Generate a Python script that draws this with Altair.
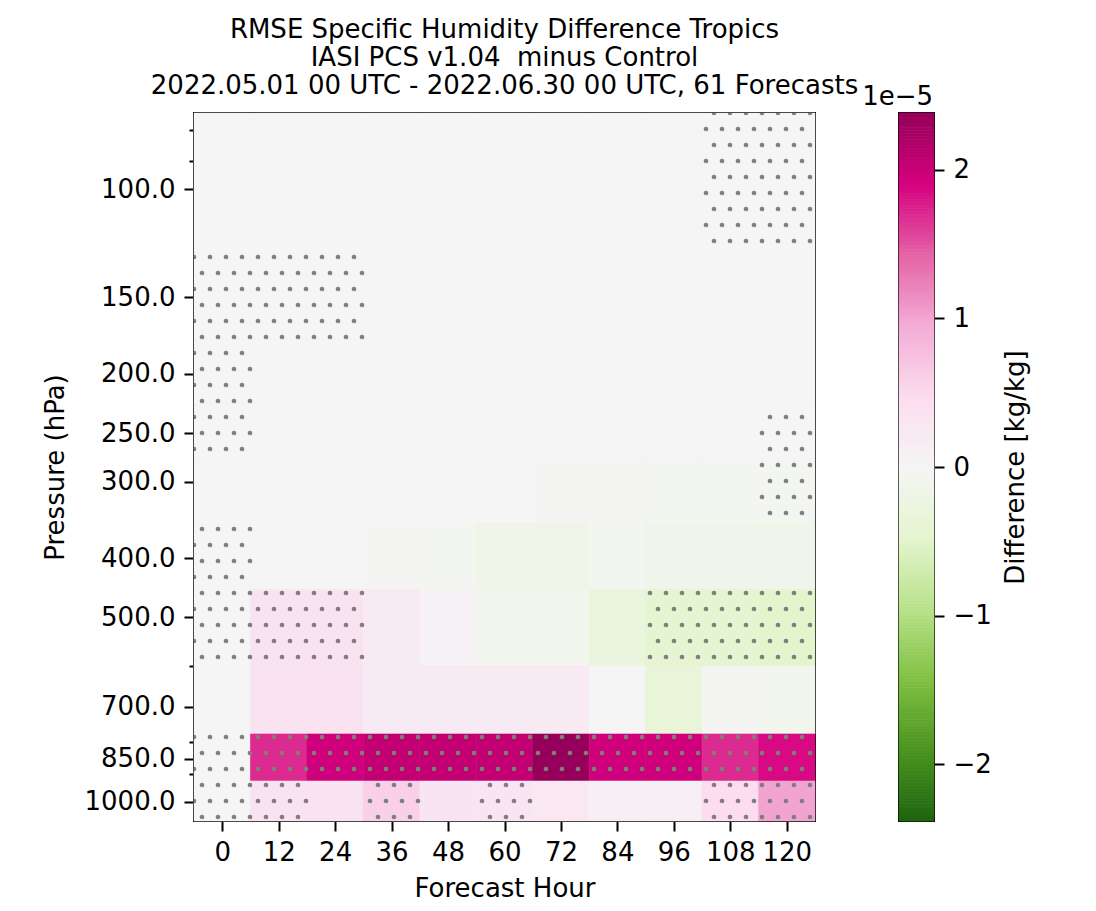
import numpy as np
import pandas as pd
import altair as alt

# ---------------- data ----------------
hours = [0, 12, 24, 36, 48, 60, 72, 84, 96, 108, 120]
levels = [100, 150, 200, 250, 300, 400, 500, 700, 850, 1000]

# RMSE difference (IASI PCS v1.04 minus Control), units of 1e-5 kg/kg
diff_100 = [0.0, 0.0, 0.0, 0.0, 0.0, 0.0, 0.0, 0.0, 0.0, 0.0, 0.0]
diff_150 = [0.0, 0.0, 0.0, 0.0, 0.0, 0.0, 0.0, 0.0, 0.0, 0.0, 0.0]
diff_200 = [0.0, 0.0, 0.0, 0.0, 0.0, 0.0, 0.0, 0.0, 0.0, 0.0, 0.0]
diff_250 = [0.0, 0.0, 0.0, 0.0, 0.0, 0.0, 0.0, 0.0, 0.0, 0.0, 0.0]
diff_300 = [0.0, 0.0, 0.0, 0.0, 0.0, 0.0, -0.03, -0.03, -0.05, -0.05, -0.05]
diff_400 = [0.0, 0.0, 0.0, -0.02, -0.05, -0.15, -0.15, -0.05, -0.13, -0.13, -0.13]
diff_500 = [0.0, 0.35, 0.35, 0.2, 0.08, -0.1, -0.12, -0.3, -0.45, -0.45, -0.48]
diff_700 = [0.0, 0.35, 0.35, 0.2, 0.2, 0.2, 0.2, 0.0, -0.35, -0.04, -0.1]
diff_850 = [0.0, 1.7, 1.95, 2.05, 2.05, 2.05, 2.38, 1.95, 1.95, 1.7, 1.85]
diff_1000 = [0.0, 0.35, 0.35, 0.6, 0.3, 0.3, 0.25, 0.1, 0.1, 0.45, 1.0]
diffs = [diff_100, diff_150, diff_200, diff_250, diff_300,
         diff_400, diff_500, diff_700, diff_850, diff_1000]

# significance (stippled cells)
sig_100 = [0, 0, 0, 0, 0, 0, 0, 0, 0, 1, 1]
sig_150 = [1, 1, 1, 0, 0, 0, 0, 0, 0, 0, 0]
sig_200 = [1, 0, 0, 0, 0, 0, 0, 0, 0, 0, 0]
sig_250 = [1, 0, 0, 0, 0, 0, 0, 0, 0, 0, 1]
sig_300 = [0, 0, 0, 0, 0, 0, 0, 0, 0, 0, 1]
sig_400 = [1, 0, 0, 0, 0, 0, 0, 0, 0, 0, 0]
sig_500 = [1, 1, 1, 0, 0, 0, 0, 0, 1, 1, 1]
sig_700 = [0, 0, 0, 0, 0, 0, 0, 0, 0, 0, 0]
sig_850 = [1, 1, 1, 1, 1, 1, 1, 1, 1, 1, 1]
sig_1000 = [1, 1, 0, 1, 0, 1, 0, 0, 0, 1, 1]
sigs = [sig_100, sig_150, sig_200, sig_250, sig_300,
        sig_400, sig_500, sig_700, sig_850, sig_1000]

y_ticks_major = [100, 150, 200, 250, 300, 400, 500, 700, 850, 1000]
y_ticks_minor = [80, 90, 600, 800, 900]
cbar_ticks = [-2, -1, 0, 1, 2]
vmax = 2.38

title_lines = ["RMSE Specific Humidity Difference Tropics",
               "IASI PCS v1.04 \u00a0minus Control",
               "2022.05.01 00 UTC - 2022.06.30 00 UTC, 61 Forecasts"]

# ---------------- geometry of cells ----------------
W, H = 621, 708
FONT = "DejaVu Sans"
FS = 26

x_edges = [hours[0] - 6] + [h + 6 for h in hours]
mids = [(levels[i] + levels[i + 1]) / 2 for i in range(len(levels) - 1)]
y_edges = [levels[0] - (levels[1] - levels[0]) / 2] + mids + \
          [levels[-1] + (levels[-1] - levels[-2]) / 2]

rows = []
for r, lev in enumerate(levels):
    for c, h in enumerate(hours):
        rows.append(dict(hour=h, level=lev, x0=x_edges[c], x1=x_edges[c + 1],
                         y0=y_edges[r], y1=y_edges[r + 1], diff=diffs[r][c]))
cells = pd.DataFrame(rows)

# stipple texture: fixed pixel lattice, kept only inside significant cells
lo, hi = np.log(y_edges[0]), np.log(y_edges[-1])
xl, xh = x_edges[0], x_edges[-1]
dots = []
for k in range(0, H // 16 + 1):
    py = 16 * k
    yd = float(np.exp(lo + py / H * (hi - lo)))
    r = int(np.searchsorted(y_edges, yd, side="right") - 1)
    r = min(max(r, 0), len(levels) - 1)
    off = 8 if k % 2 == 0 else 0
    for px in range(off, W + 1, 16):
        xd = xl + px / W * (xh - xl)
        c = int((xd - xl) // 12)
        c = min(max(c, 0), len(hours) - 1)
        if sigs[r][c]:
            dots.append(dict(dx=xd, dy=yd))
dots_df = pd.DataFrame(dots)

# ---------------- scales ----------------
cdom = [-2.38, -1.90, -1.43, -0.95, -0.476, 0.0, 0.476, 0.95, 1.43, 1.90, 2.38]
crange = ["#1e6410", "#4b9420", "#80c043", "#b9e28a", "#e4f5cf", "#f5f5f5",
          "#fcdcee", "#f4acd6", "#e462a5", "#d6007f", "#96005a"]
color_scale = alt.Scale(domain=cdom, range=crange, interpolate="rgb", clamp=True)

x_scale = alt.Scale(domain=[xl, xh], nice=False, zero=False)
y_scale = alt.Scale(type="log", domain=[y_edges[0], y_edges[-1]], reverse=True, nice=False)

x_axis = alt.Axis(values=hours, title="Forecast Hour", format="d", labelFlush=False,
                  tickSize=10, labelPadding=8, titlePadding=10, labelOverlap=False)
major_js = "[" + ",".join(str(v) for v in y_ticks_major) + "]"
minor_js = "[" + ",".join(str(v) for v in y_ticks_minor) + "]"
y_axis = alt.Axis(values=sorted(y_ticks_major + y_ticks_minor), title="Pressure (hPa)",
                  labelExpr=f"indexof({major_js}, datum.value) >= 0 ? format(datum.value, '.1f') : ''",
                  tickSize={"condition": {"test": f"indexof({minor_js}, datum.value) >= 0", "value": 5},
                            "value": 10},
                  labelPadding=9, titlePadding=16, labelOverlap=False, labelFlush=False)

rects = alt.Chart(cells).mark_rect(strokeWidth=0.6).encode(
    x=alt.X("x0:Q", scale=x_scale, axis=x_axis),
    x2="x1:Q",
    y=alt.Y("y0:Q", scale=y_scale, axis=y_axis),
    y2="y1:Q",
    color=alt.Color("diff:Q", scale=color_scale, legend=None),
    stroke=alt.Stroke("diff:Q", scale=color_scale, legend=None),
)

stipple = alt.Chart(dots_df).mark_circle(size=22, color="#7f7f7f", opacity=1, clip=True).encode(
    x=alt.X("dx:Q", scale=x_scale, axis=x_axis),
    y=alt.Y("dy:Q", scale=y_scale, axis=y_axis),
)

main = alt.layer(rects, stipple).properties(
    width=W, height=H,
    title=alt.TitleParams(text=title_lines, font=FONT, fontSize=FS, fontWeight="normal",
                          color="black", anchor="middle", frame="group",
                          lineHeight=28, offset=14),
)

# ---------------- colorbar ----------------
edges = np.linspace(-vmax, vmax, 239)
cb_df = pd.DataFrame({"v0": edges[:-1], "v1": edges[1:],
                      "vm": (edges[:-1] + edges[1:]) / 2})
cb_axis = alt.Axis(orient="right", values=cbar_ticks,
                   labelExpr="replace(format(datum.value, 'd'), '-', '\u2212')",
                   title="Difference [kg/kg]", titleAngle=270, titleBaseline="top",
                   tickSize=10, labelPadding=9, titlePadding=11, labelFlush=False)
cbar = alt.Chart(cb_df).mark_rect(strokeWidth=0.8).encode(
    y=alt.Y("v0:Q", scale=alt.Scale(domain=[-vmax, vmax], nice=False, zero=False), axis=cb_axis),
    y2="v1:Q",
    x=alt.value(0), x2=alt.value(35),
    color=alt.Color("vm:Q", scale=color_scale, legend=None),
    stroke=alt.Stroke("vm:Q", scale=color_scale, legend=None),
)
offset_txt = alt.Chart(pd.DataFrame({"t": ["1e\u22125"]})).mark_text(
    align="right", baseline="alphabetic", font=FONT, fontSize=FS, color="black"
).encode(text="t:N", x=alt.value(34), y=alt.value(-8))
cbar_chart = alt.layer(cbar, offset_txt).properties(width=35, height=H)

chart = alt.hconcat(main, cbar_chart, spacing=84, bounds="flush").properties(
    padding={"left": 41, "top": 15, "right": 5, "bottom": 5},
    background="white",
).configure_view(stroke="black", strokeWidth=2).configure_axis(
    labelFont=FONT, labelFontSize=FS, titleFont=FONT, titleFontSize=FS,
    labelColor="black", titleColor="black", tickColor="black", tickWidth=2,
    titleFontWeight="normal", domain=False, grid=False
)

chart.save("out.html", embed_options={"renderer": "svg", "actions": False})
